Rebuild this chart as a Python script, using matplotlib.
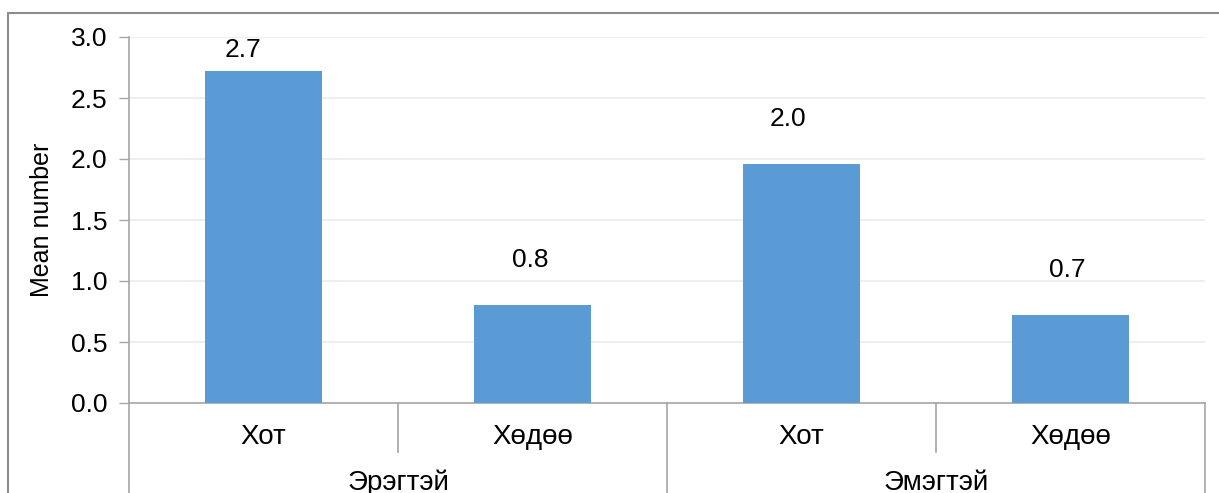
import numpy as np
import matplotlib.pyplot as plt
from matplotlib.patches import Rectangle

plt.rcParams['font.family'] = ['Liberation Sans', 'DejaVu Sans']

# Data
groups = ['Эрэгтэй', 'Эмэгтэй']
places = ['Хот', 'Хөдөө']
values = [2.72, 0.80, 1.96, 0.72]
value_labels = ['2.7', '0.8', '2.0', '0.7']
yticks = [0.0, 0.5, 1.0, 1.5, 2.0, 2.5, 3.0]

bar_color = '#5B9BD5'
axis_color = '#A6A6A6'
grid_color = '#EBEBEB'

fig = plt.figure(figsize=(12.19, 4.93), dpi=100)
ax = fig.add_axes([129/1219, 1 - 403/493, (1205 - 129)/1219, (403 - 37)/493])

x = np.arange(len(values))
ax.bar(x, values, width=0.435, color=bar_color, zorder=3)

# value labels were nudged by hand in the original chart
label_dx = [-0.075, -0.01, -0.05, -0.01]
for xi, v, lab, dx in zip(x, values, value_labels, label_dx):
    ypos = min(v + 0.37, 2.89)
    ax.text(xi + dx, ypos, lab, ha='center', va='center', fontsize=19, color='#000000')

ax.set_xlim(-0.5, len(values) - 0.5)
ax.set_ylim(0, 3.0)
ax.set_yticks(yticks)
ax.set_yticklabels([f'{t:.1f}' for t in yticks], fontsize=19)
ax.yaxis.grid(True, color=grid_color, linewidth=1.2, zorder=0)
ax.set_xticks([])
ax.tick_params(axis='y', length=7.5, width=1, color=axis_color, pad=8)

for side in ['top', 'right']:
    ax.spines[side].set_visible(False)
for side in ['left', 'bottom']:
    ax.spines[side].set_color(axis_color)
    ax.spines[side].set_linewidth(1.2)

ax.set_ylabel('Mean number', fontsize=18, labelpad=12)

# multi-level category axis
trans = ax.get_xaxis_transform()
n_inner = len(places)
for i, b in enumerate(np.arange(-0.5, len(values), 1.0)):
    bottom = -0.35 if i % n_inner == 0 else -0.134
    ax.plot([b, b], [0, bottom], transform=trans, color=axis_color,
            linewidth=1.2, clip_on=False)

for gi, g in enumerate(groups):
    for pi, p in enumerate(places):
        xi = gi * n_inner + pi
        ax.text(xi, -0.093, p, transform=trans, ha='center', va='center', fontsize=20)
    center = gi * n_inner + (n_inner - 1) / 2
    ax.text(center, -0.183, g, transform=trans, ha='center', va='top', fontsize=20)

# chart area border (extends past right and bottom edges)
fig.patches.append(Rectangle((8/1219, -0.2), 1.2, 1 - 13/493 + 0.2,
                             transform=fig.transFigure, fill=False,
                             edgecolor='#8C8C8C', linewidth=1.5))

fig.savefig('out.png', dpi=100)
